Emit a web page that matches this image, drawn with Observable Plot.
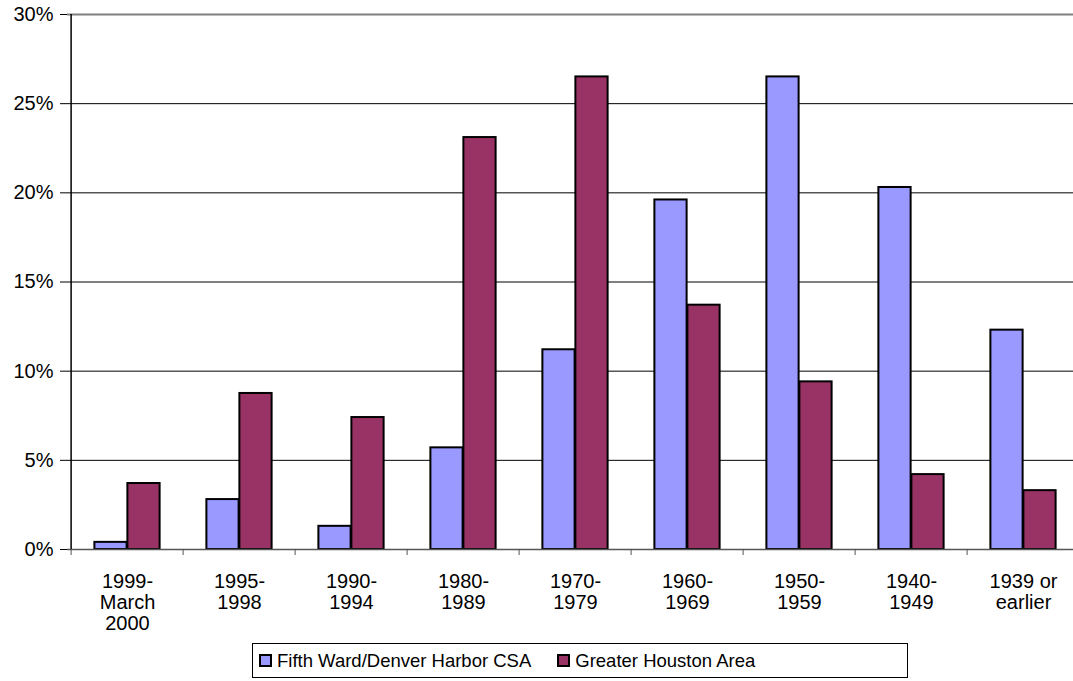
<!DOCTYPE html>
<html>
<head>
<meta charset="utf-8">
<script src="https://cdn.jsdelivr.net/npm/d3@7"></script>
<script src="https://cdn.jsdelivr.net/npm/@observablehq/plot@0.6"></script>
<style>
  html, body { margin: 0; padding: 0; background: #fff; overflow: hidden; width: 1073px; height: 681px; }
  #chart { position: absolute; left: 0; top: 0; width: 1082px; }
  #chart svg { max-width: none !important; }
  #legend { position: absolute; left: 252px; top: 643px; width: 656px; height: 35px; border: 1px solid #000;
    box-sizing: border-box; font-family: "Liberation Sans", Arial, sans-serif; font-size: 18.5px; color: #000;
    display: flex; align-items: center; padding-left: 6px; }
  .sw { display: inline-block; width: 13px; height: 13px; border: 2px solid #000; margin-right: 5px; box-sizing: border-box; }
  .item { display: flex; align-items: center; margin-right: 26px; white-space: nowrap; }
</style>
</head>
<body>
<div id="chart"></div>
<div id="legend"></div>
<script>
const categories = ["1999-\nMarch\n2000", "1995-\n1998", "1990-\n1994", "1980-\n1989", "1970-\n1979", "1960-\n1969", "1950-\n1959", "1940-\n1949", "1939 or\nearlier"];
const seriesNames = ["Fifth Ward/Denver Harbor CSA", "Greater Houston Area"];
const fifthWard = [0.004, 0.028, 0.013, 0.057, 0.112, 0.196, 0.265, 0.203, 0.123];
const greaterHouston = [0.037, 0.0875, 0.074, 0.231, 0.265, 0.137, 0.094, 0.042, 0.033];
const yTicks = [0, 0.05, 0.10, 0.15, 0.20, 0.25, 0.30];
const colors = ["#9999FF", "#993366"];

const data = [];
categories.forEach((c, i) => {
  data.push({category: c, series: seriesNames[0], value: fifthWard[i]});
  data.push({category: c, series: seriesNames[1], value: greaterHouston[i]});
});

const W = 1082, H = 640, mL = 67, mR = 0, mT = 14, mB = 91;
const bw = (W - mL - mR) / categories.length;
const barW = 33;
const half = bw / 2;

const chart = Plot.plot({
  width: W, height: H,
  marginLeft: mL, marginRight: mR, marginTop: mT, marginBottom: mB,
  style: {fontFamily: "'Liberation Sans', Arial, sans-serif", fontSize: "20px", color: "#000", background: "#fff", maxWidth: "none"},
  x: {type: "band", domain: categories, padding: 0, label: null},
  y: {domain: [0, 0.30], label: null},
  color: {domain: seriesNames, range: colors},
  marks: [
    Plot.ruleY(yTicks.filter(t => t > 0 && t < 0.30), {y: d => d, stroke: "#000", strokeWidth: 1}),
    Plot.ruleY([0.30], {y: d => d, stroke: "#808080", strokeWidth: 2}),
    Plot.barY(data.filter(d => d.series === seriesNames[0]), {x: "category", y: "value", fill: colors[0], stroke: "#000", strokeWidth: 2, insetLeft: half - barW, insetRight: half}),
    Plot.barY(data.filter(d => d.series === seriesNames[1]), {x: "category", y: "value", fill: colors[1], stroke: "#000", strokeWidth: 2, insetLeft: half, insetRight: half - barW}),
    Plot.ruleY([0], {y: d => d, stroke: "#555", strokeWidth: 1.5}),
    Plot.ruleX([categories[0]], {x: d => d, dx: -half, stroke: "#000", strokeWidth: 1.5}),
    Plot.axisY({ticks: yTicks, tickFormat: d3.format(".0%"), tickSize: 7, tickPadding: 7, stroke: "#000", fontSize: 20}),
    Plot.axisX({tickSize: 0, tickPadding: 23, lineHeight: 1.07, fontSize: 20}),
    Plot.ruleX(categories, {x: d => d, y1: 0, y2: 0, insetBottom: -6, dx: -half, stroke: "#555", strokeWidth: 1})
  ]
});
chart.style.maxWidth = "none";
document.getElementById("chart").appendChild(chart);

const legend = document.getElementById("legend");
seriesNames.forEach((s, i) => {
  const item = document.createElement("span");
  item.className = "item";
  const sw = document.createElement("span");
  sw.className = "sw";
  sw.style.background = colors[i];
  item.appendChild(sw);
  item.appendChild(document.createTextNode(s));
  legend.appendChild(item);
});
</script>
</body>
</html>
